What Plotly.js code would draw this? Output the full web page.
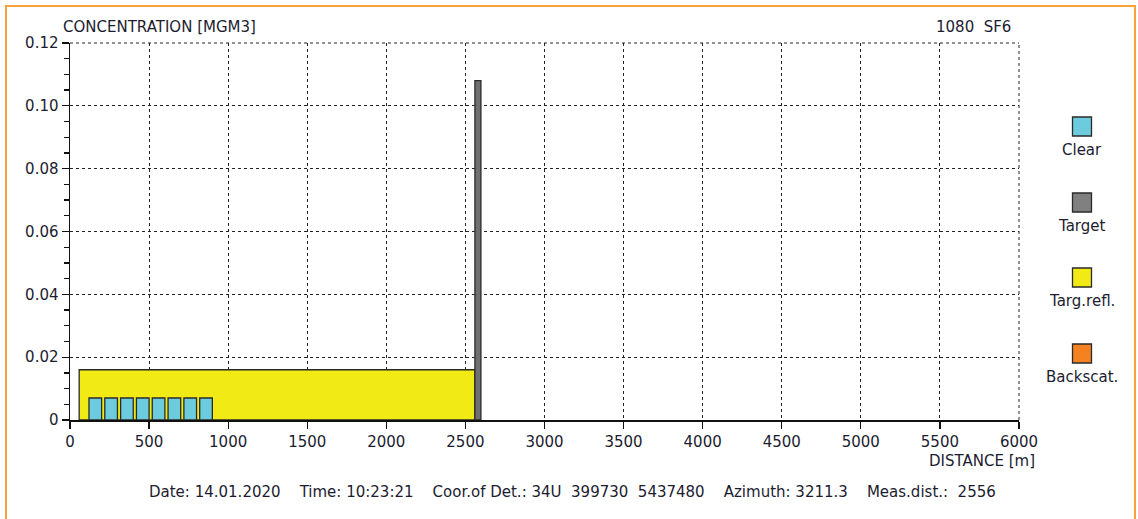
<!DOCTYPE html>
<html>
<head>
<meta charset="utf-8">
<script src="https://cdn.plot.ly/plotly-3.0.1.min.js"></script>
<style>
html,body{margin:0;padding:0;background:#fff;}
#frame{position:absolute;left:5px;top:5px;width:1131px;height:520px;border-left:2px solid #f7a23a;border-top:2px solid #f7a23a;border-right:2px solid #f7a23a;box-sizing:border-box;}
#chart{position:absolute;left:0;top:0;width:1138px;height:519px;}
</style>
</head>
<body>
<div id="chart"></div>
<div id="frame"></div>
<script>
// ---- data ----
const clearStart = [120, 220, 320, 420, 520, 620, 720, 820];
const clearEnd   = [200, 300, 400, 500, 600, 700, 800, 900];
const clearConc  = [0.007, 0.007, 0.007, 0.007, 0.007, 0.007, 0.007, 0.007];

const reflStart = [58];
const reflEnd   = [2560];
const reflConc  = [0.016];

const targetStart = [2560];
const targetEnd   = [2598];
const targetConc  = [0.108];

const legendLabels = ["Clear", "Target", "Targ.refl.", "Backscat."];
const legendColors = ["#6ccbdc", "#808080", "#f2ea14", "#f58220"];

const xTicks = [0, 500, 1000, 1500, 2000, 2500, 3000, 3500, 4000, 4500, 5000, 5500, 6000];
const yTicks = [0, 0.02, 0.04, 0.06, 0.08, 0.10, 0.12];
const yTickText = ["0", "0.02", "0.04", "0.06", "0.08", "0.10", "0.12"];

const gasLabel = "1080  SF6";
const infoLine = "Date: 14.01.2020    Time: 10:23:21    Coor.of Det.: 34U  399730  5437480    Azimuth: 3211.3    Meas.dist.:  2556";

// ---- build ----
function barTrace(starts, ends, vals, color, edge, name) {
  return {
    type: 'bar', name: name,
    x: starts.map((s, i) => (s + ends[i]) / 2),
    width: starts.map((s, i) => ends[i] - s),
    y: vals,
    marker: {color: color, line: {color: edge, width: 1.3}},
    hoverinfo: 'x+y', showlegend: false
  };
}

const traces = [
  barTrace(reflStart, reflEnd, reflConc, legendColors[2], '#2a2a2a', 'Targ.refl.'),
  barTrace(clearStart, clearEnd, clearConc, legendColors[0], '#2a2a2a', 'Clear'),
  barTrace(targetStart, targetEnd, targetConc, '#707070', '#2a2a2a', 'Target')
];

const fontFam = 'DejaVu Sans, Verdana, sans-serif';
const txtColor = '#1c1c30';
const fs = 15;

const annotations = [
  {xref:'paper', yref:'paper', x:0, y:1.0, xshift:-9, yshift:16, xanchor:'left', yanchor:'middle', text:'CONCENTRATION [MGM3]', showarrow:false, font:{family:fontFam, size:fs, color:txtColor}},
  {xref:'paper', yref:'paper', x:1, y:1.0, xshift:-6, yshift:16, xanchor:'right', yanchor:'middle', text:gasLabel.replace(/ /g,'&nbsp;'), showarrow:false, font:{family:fontFam, size:fs, color:txtColor}},
  {xref:'paper', yref:'paper', x:1, y:0, xshift:18, yshift:-41, xanchor:'right', yanchor:'middle', text:'DISTANCE [m]', showarrow:false, font:{family:fontFam, size:fs, color:txtColor}},
  {xref:'paper', yref:'paper', x:0.0, y:0, xshift:77, yshift:-72, xanchor:'left', yanchor:'middle', text:infoLine.replace(/ /g,'&nbsp;'), showarrow:false, font:{family:fontFam, size:fs, color:txtColor}}
];
const shapes = [
  {type:'line', xref:'paper', yref:'paper', x0:0, x1:1, y0:1, y1:1, line:{color:'#222', width:1, dash:'dot'}},
  {type:'line', xref:'paper', yref:'paper', x0:1, x1:1, y0:0, y1:1, line:{color:'#222', width:1, dash:'dot'}}
];
const legY = [126.5, 202.5, 277.5, 353.5];
legendLabels.forEach((lab, i) => {
  const cy = 1 - (legY[i] - 43) / 377;
  const cx = 1 + (1082 - 1019) / 949;
  shapes.push({type:'rect', xref:'paper', yref:'paper',
    x0: cx - 9.5/949, x1: cx + 9.5/949, y0: cy - 9.5/377, y1: cy + 9.5/377,
    fillcolor: legendColors[i], line:{color:'#2a2a2a', width:1.3}});
  annotations.push({xref:'paper', yref:'paper', x:cx, y:cy, yshift:-23, xanchor:'center', yanchor:'middle',
    text: lab, showarrow:false, font:{family:fontFam, size:fs, color:txtColor}});
});

const layout = {
  width: 1138, height: 519,
  margin: {l:70, r:119, t:43, b:99, pad:0},
  paper_bgcolor: '#fff', plot_bgcolor: '#fff',
  barmode: 'overlay', bargap: 0,
  showlegend: false,
  font: {family: fontFam, size: fs, color: txtColor},
  xaxis: {
    range: [0, 6000], tickvals: xTicks, ticktext: xTicks.map(String),
    showgrid: true, gridcolor: '#222', griddash: 'dot', gridwidth: 1,
    showline: true, linecolor: '#111', linewidth: 1.5,
    ticks: 'outside', ticklen: 7, tickcolor: '#111', tickwidth: 1.3,
    zeroline: false, fixedrange: true,
    tickfont: {family: fontFam, size: fs, color: txtColor}
  },
  yaxis: {
    range: [0, 0.12], tickvals: yTicks, ticktext: yTickText,
    showgrid: true, gridcolor: '#222', griddash: 'dot', gridwidth: 1,
    showline: true, linecolor: '#111', linewidth: 1.5,
    ticks: 'outside', ticklen: 7, tickcolor: '#111', tickwidth: 1.3,
    minor: {dtick: 0.005, ticks: 'outside', ticklen: 5, tickcolor: '#111', tickwidth: 1.3, showgrid: false},
    zeroline: false, fixedrange: true,
    tickfont: {family: fontFam, size: fs, color: txtColor}
  },
  annotations: annotations,
  shapes: shapes
};

Plotly.newPlot('chart', traces, layout, {displayModeBar: false, staticPlot: true});
</script>
</body>
</html>
